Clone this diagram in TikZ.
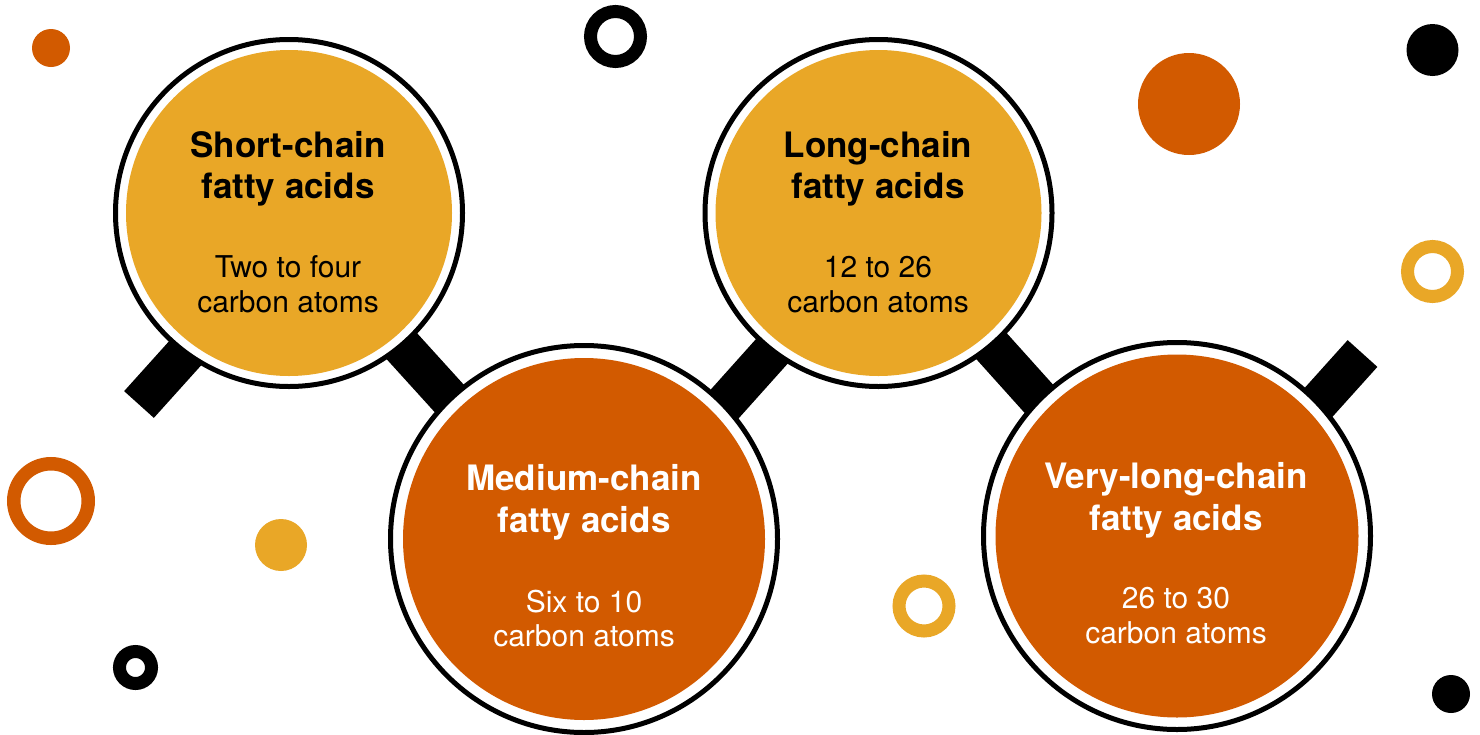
\documentclass[tikz,border=0pt]{standalone}
\usepackage{fontspec}
\setmainfont{TeX Gyre Heros}
\definecolor{gold}{HTML}{E9A727}
\definecolor{rust}{HTML}{D25A00}
\begin{document}
\begin{tikzpicture}[x=1pt,y=-1pt,
  lens/.style={circle, draw=black, line width=5pt, fill=white, inner sep=0pt, minimum size=#1},
  glass/.style={circle, fill=#1, inner sep=0pt},
  disc/.style={circle, fill=#1, inner sep=0pt},
  hoop/.style={circle, draw=#1, inner sep=0pt},
  handle/.style={line width=40pt, black},
  ttl/.style={anchor=base, inner sep=0pt, font=\fontsize{35}{40}\selectfont\bfseries},
  sub/.style={anchor=base, inner sep=0pt, font=\fontsize{30}{34}\selectfont},
]
\useasboundingbox[fill=white] (0,0) rectangle (1480,734);

% decorative dots and rings
\node[disc=rust, minimum size=38] (d1) at (51,48) {};
\node[hoop=black, line width=13pt, minimum size=50] (r1) at (615.5,36.5) {};
\node[disc=rust, minimum size=102] (d2) at (1189,104) {};
\node[disc=black, minimum size=52] (d3) at (1432.5,50) {};
\node[hoop=gold, line width=13pt, minimum size=50] (r2) at (1432.5,271.5) {};
\node[hoop=rust, line width=13.5pt, minimum size=74.5] (r3) at (51,501) {};
\node[disc=gold, minimum size=52] (d4) at (281,545) {};
\node[hoop=black, line width=13pt, minimum size=32] (r4) at (135.5,667.5) {};
\node[hoop=gold, line width=13pt, minimum size=50] (r5) at (924,606) {};
\node[disc=black, minimum size=38] (d5) at (1451,694) {};

% handles
\coordinate (h1a) at (139,404.5);
\coordinate (h1b) at (229,304.5);
\coordinate (h2a) at (315.5,251);
\coordinate (h2b) at (557.5,517.75);
\coordinate (h3a) at (640,498.5);
\coordinate (h3b) at (855,258.5);
\coordinate (h4a) at (906,251);
\coordinate (h4b) at (1146,518);
\coordinate (h5a) at (1210,523);
\coordinate (h5b) at (1362.5,353.5);
\draw[handle] (h1a) -- (h1b);
\draw[handle] (h2a) -- (h2b);
\draw[handle] (h3a) -- (h3b);
\draw[handle] (h4a) -- (h4b);
\draw[handle] (h5a) -- (h5b);

% lenses
\node[lens=347] (L1) at (289,213) {};
\node[glass=gold, minimum size=326] (G1) at (289,213) {};
\node[lens=347] (L3) at (878.5,213) {};
\node[glass=gold, minimum size=326] (G3) at (878.5,213) {};
\node[lens=387] (L2) at (584,539) {};
\node[glass=rust, minimum size=362] (G2) at (584,539) {};
\node[lens=387] (L4) at (1177,536) {};
\node[glass=rust, minimum size=363] (G4) at (1177,536) {};

% texts
\node[ttl] (t1a) at (288,157) {Short-chain};
\node[ttl] (t1b) at (288,198) {fatty acids};
\node[sub] (s1a) at (288,277) {Two to four};
\node[sub] (s1b) at (288,312) {carbon atoms};

\node[ttl] (t3a) at (878,157) {Long-chain};
\node[ttl] (t3b) at (878,198) {fatty acids};
\node[sub] (s3a) at (878,277) {12 to 26};
\node[sub] (s3b) at (878,312) {carbon atoms};

\begin{scope}[text=white]
\node[ttl] (t2a) at (584,490) {Medium-chain};
\node[ttl] (t2b) at (584,532) {fatty acids};
\node[sub] (s2a) at (584,612) {Six to 10};
\node[sub] (s2b) at (584,646) {carbon atoms};

\node[ttl] (t4a) at (1176,488) {Very-long-chain};
\node[ttl] (t4b) at (1176,530) {fatty acids};
\node[sub] (s4a) at (1176,608) {26 to 30};
\node[sub] (s4b) at (1176,643) {carbon atoms};
\end{scope}
\end{tikzpicture}
\end{document}
